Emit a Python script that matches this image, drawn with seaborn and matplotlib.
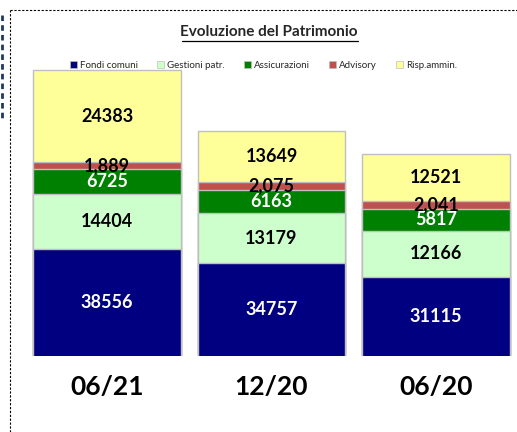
import matplotlib.pyplot as plt
import matplotlib.patches as mpatches
from matplotlib.lines import Line2D
import numpy as np
import pandas as pd
import seaborn as sns

sns.set_theme(style="white")
plt.rcParams["font.family"] = ["Lato", "DejaVu Sans"]

periods = ["06/21", "12/20", "06/20"]
series = ["Fondi comuni", "Gestioni patr.", "Assicurazioni", "Advisory", "Risp.ammin."]
fondi = [38556, 34757, 31115]
gestioni = [14404, 13179, 12166]
assicurazioni = [6725, 6163, 5817]
advisory = [1889, 2075, 2041]
risparmio = [24383, 13649, 12521]

colors = ["#000080", "#CCFFCC", "#008000", "#C0504D", "#FFFF99"]
text_colors = ["white", "black", "white", "black", "black"]
y_min, y_max = 10000, 90000

values = [fondi, gestioni, assicurazioni, advisory, risparmio]
df = pd.DataFrame({"Periodo": periods})
for name, vals in zip(series, values):
    df[name] = vals
cum = df[series].cumsum(axis=1)

fig = plt.figure(figsize=(5.17, 4.32), dpi=100)
ax = fig.add_axes([25 / 517, 1 - 356 / 432, 493 / 517, (356 - 55) / 432])

# draw from top layer down so lower stacks cover upper ones
for i in range(len(series) - 1, -1, -1):
    sns.barplot(x=df["Periodo"], y=cum[series[i]], color=colors[i], width=0.9,
                saturation=1, edgecolor="#BFBFBF", linewidth=1, ax=ax)

ax.set_ylim(y_min, y_max)
ax.set_xlim(-0.5, 2.5)
ax.set_ylabel("")
ax.set_xlabel("")
ax.set_yticks([])
for s in ax.spines.values():
    s.set_visible(False)
ax.tick_params(axis="x", length=0, pad=14)
for lab in ax.get_xticklabels():
    lab.set_fontsize(19)
    lab.set_fontweight("bold")
    lab.set_color("black")

# segment labels
for j in range(len(periods)):
    for i, name in enumerate(series):
        top = cum[name][j]
        bottom = max(top - df[name][j], y_min)
        val = df[name][j]
        txt = f"{val:,}" if name == "Advisory" else f"{val}"
        ax.text(j, (top + bottom) / 2, txt, ha="center", va="center",
                fontsize=13, fontweight="bold", color=text_colors[i])

# legend
handles = [mpatches.Patch(facecolor=c, edgecolor="#BFBFBF", linewidth=0.5) for c in colors]
fig.legend(handles, series, loc="center", bbox_to_anchor=(0.51, 1 - 65 / 432),
           ncol=5, frameon=False, fontsize=7, handlelength=0.7, handleheight=0.7,
           handletextpad=0.3, columnspacing=2.0)

fig.text(0.52, 1 - 32 / 432, "Evoluzione del Patrimonio", ha="center", va="center",
         fontsize=11, fontweight="bold")
fig.add_artist(Line2D([182 / 517, 358 / 517], [1 - 41 / 432, 1 - 41 / 432],
                      color="black", linewidth=0.9))

# dashed chart frame
fig.add_artist(Line2D([10 / 517, 10 / 517], [0, 1 - 10 / 432], color="black",
                      linewidth=0.8, linestyle=(0, (2, 1.5))))
fig.add_artist(Line2D([10 / 517, 1], [1 - 10 / 432, 1 - 10 / 432], color="black",
                      linewidth=0.8, linestyle=(0, (2, 1.5))))
fig.add_artist(Line2D([1.5 / 517, 1.5 / 517], [1 - 15 / 432, 1 - 120 / 432], color="#1F3864",
                      linewidth=2, linestyle=(0, (2, 1.5))))

fig.savefig("out.png", dpi=100)
